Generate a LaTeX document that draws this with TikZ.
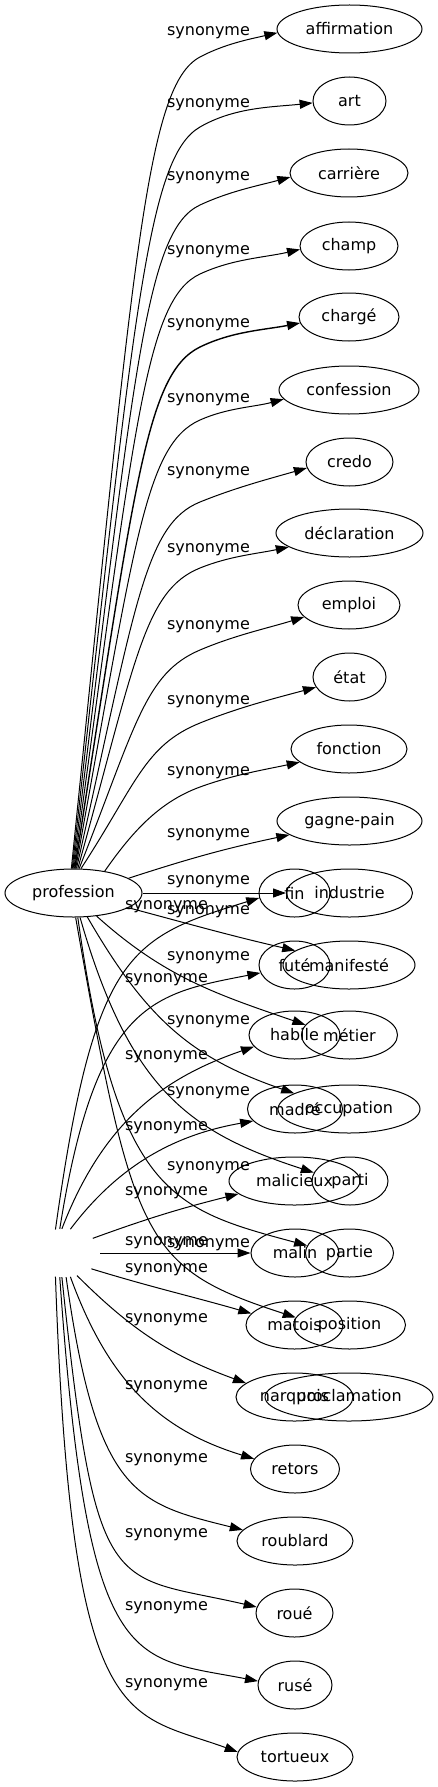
\documentclass[tikz,border=0pt]{standalone}
\usepackage{fontspec}
\setmainfont{DejaVu Sans}
\usetikzlibrary{shapes.geometric,arrows.meta}
\begin{document}
\begin{tikzpicture}[x=1pt,y=1pt,
  ell/.style={draw,ellipse,line width=1pt,inner sep=0pt,minimum height=48pt,font=\fontsize{16}{19}\selectfont},
  lbl/.style={inner sep=0pt,font=\fontsize{16}{19}\selectfont},
  edge/.style={line width=1pt,-{Triangle[length=13pt,width=9pt]}}]
\useasboundingbox (0,0) rectangle (437,-1787);
% sources
\node[ell,minimum width=137pt] (prof) at (73.5,-893) {profession};
\node[ellipse,inner sep=0pt,minimum width=72pt,minimum height=48pt] (inv) at (64,-1253) {};
% right column
\node[ell,minimum width=145pt] (affirmation) at (349.5,-29) {affirmation};
\node[ell,minimum width=73pt] (art) at (349.5,-101) {art};
\node[ell,minimum width=118pt] (carriere) at (349,-173) {carrière};
\node[ell,minimum width=98pt] (champ) at (349,-246) {champ};
\node[ell,minimum width=100pt] (charge) at (349,-317) {chargé};
\node[ell,minimum width=140pt] (confession) at (349,-390) {confession};
\node[ell,minimum width=87pt] (credo) at (349.5,-462) {credo};
\node[ell,minimum width=147pt] (declaration) at (349.5,-533) {déclaration};
\node[ell,minimum width=102pt] (emploi) at (349,-605) {emploi};
\node[ell,minimum width=73pt] (etat) at (349.5,-677) {état};
\node[ell,minimum width=116pt] (fonction) at (349,-749) {fonction};
\node[ell,minimum width=145pt] (gagnepain) at (349.5,-821) {gagne-pain};
\node[ell,minimum width=126pt] (industrie) at (349.5,-893) {industrie};
\node[ell,minimum width=132pt] (manifeste) at (349,-965) {manifesté};
\node[ell,minimum width=96pt] (metier) at (349.5,-1035) {métier};
\node[ell,minimum width=142pt] (occupation) at (349,-1109) {occupation};
\node[ell,minimum width=76pt] (parti) at (350,-1181) {parti};
\node[ell,minimum width=88pt] (partie) at (349.5,-1253) {partie};
\node[ell,minimum width=112pt] (position) at (349.5,-1325) {position};
\node[ell,minimum width=168pt] (proclamation) at (349,-1397) {proclamation};
% left column
\node[ell,minimum width=71pt] (fin) at (294.5,-893) {fin};
\node[ell,minimum width=71pt] (fute) at (294.5,-965) {futé};
\node[ell,minimum width=91pt] (habile) at (294.5,-1035) {habile};
\node[ell,minimum width=95pt] (madre) at (295,-1109) {madré};
\node[ell,minimum width=131pt] (malicieux) at (294.5,-1181) {malicieux};
\node[ell,minimum width=88pt] (malin) at (295,-1253) {malin};
\node[ell,minimum width=97pt] (matois) at (294.5,-1325) {matois};
\node[ell,minimum width=117pt] (narquois) at (294.5,-1397) {narquois};
\node[ell,minimum width=89pt] (retors) at (295,-1469) {retors};
\node[ell,minimum width=116pt] (roublard) at (295,-1541) {roublard};
\node[ell,minimum width=77pt] (roue) at (294.5,-1613) {roué};
\node[ell,minimum width=74pt] (ruse) at (295,-1685) {rusé};
\node[ell,minimum width=116pt] (tortueux) at (295,-1757) {tortueux};
% edges from profession
\draw[edge] (prof.95) to[out=84.2,in=208,out distance=621pt,in distance=60pt] (200,-57) to[out=28,in=193,out distance=28pt,in distance=28pt] (affirmation.183);
\draw[edge] (prof.93) to[out=83.7,in=210,out distance=565pt,in distance=60pt] (200,-127) to[out=30,in=186,out distance=40pt,in distance=40pt] (art.183);
\draw[edge] (prof.91) to[out=83,in=205,out distance=503pt,in distance=60pt] (200,-205) to[out=25,in=195,out distance=33pt,in distance=33pt] (carriere.184);
\draw[edge] (prof.89) to[out=82.2,in=205,out distance=448pt,in distance=60pt] (200,-274) to[out=25,in=193,out distance=36pt,in distance=36pt] (champ.184);
\draw[edge,line width=1.4pt] (prof.87) to[out=81.1,in=206,out distance=390pt,in distance=60pt] (200,-347) to[out=26,in=191,out distance=36pt,in distance=36pt] (charge.187);
\draw[edge] (prof.85) to[out=79.7,in=204,out distance=333pt,in distance=60pt] (200,-420) to[out=24,in=195,out distance=30pt,in distance=30pt] (confession.188);
\draw[edge] (prof.83) to[out=77.3,in=202,out distance=268pt,in distance=60pt] (200,-502) to[out=22,in=196,out distance=39pt,in distance=39pt] (credo.188);
\draw[edge] (prof.80) to[out=74.5,in=202,out distance=217pt,in distance=60pt] (200,-568) to[out=22,in=192,out distance=32pt,in distance=32pt] (declaration.193);
\draw[edge] (prof.77) to[out=68.4,in=203,out distance=154pt,in distance=60pt] (200,-650) to[out=23,in=197,out distance=38pt,in distance=38pt] (emploi.195);
\draw[edge] (prof.73) to[out=56.9,in=202,out distance=101pt,in distance=60pt] (200,-723) to[out=22,in=195,out distance=42pt,in distance=42pt] (etat.197);
\draw[edge] (prof.35) to[out=55,in=200,out distance=45pt,in distance=45pt] (200,-787) to[out=20,in=192,out distance=36pt,in distance=36pt] (fonction.195);
\draw[edge] (prof.15) to[out=18,in=192] (gagnepain.193);
\draw[edge] (prof.east) -- (industrie.west);
\draw[edge] (prof.-15) to[out=-15,in=167] (manifeste.165);
\draw[edge] (prof.-45) to[out=-42,in=161] (metier.167);
\draw[edge] (prof.-60) to[out=-60,in=161,out distance=120pt,in distance=107pt] (occupation.164);
\draw[edge] (prof.-75) to[out=-74,in=162,out distance=180pt,in distance=130pt] (parti.167);
\draw[edge] (prof.-80) to[out=-82,in=165,out distance=280pt,in distance=140pt] (partie.170);
\draw[edge] (prof.-85) to[out=-80,in=162,out distance=330pt,in distance=160pt] (position.172);
% edges from the unnamed node
\draw[edge] (inv.110) to[out=82,in=197,out distance=280pt,in distance=136pt] (fin.188);
\draw[edge] (inv.100) to[out=81,in=191,out distance=230pt,in distance=110pt] (fute.193);
\draw[edge] (inv.95) to[out=69,in=199,out distance=120pt,in distance=90pt] (habile.196);
\draw[edge] (inv.75) to[out=53,in=190,out distance=80pt,in distance=80pt] (madre.196);
\draw[edge] (inv.27) to[out=20,in=194] (malicieux.193);
\draw[edge] (inv.east) -- (malin.west);
\draw[edge] (inv.-30) to[out=-17,in=164] (matois.165);
\draw[edge] (inv.-60) to[out=-45,in=160] (narquois.164);
\draw[edge] (inv.-75) to[out=-70,in=163,out distance=110pt,in distance=100pt] (retors.166);
\draw[edge] (inv.-85) to[out=-82,in=166,out distance=220pt,in distance=110pt] (roublard.168);
\draw[edge] (inv.-95) to[out=-84,in=167,out distance=330pt,in distance=150pt] (roue.171);
\draw[edge] (inv.-100) to[out=-86,in=169,out distance=400pt,in distance=130pt] (ruse.174);
\draw[edge] (inv.-110) to[out=-88,in=160,out distance=460pt,in distance=120pt] (tortueux.175);
% labels
\foreach \ly [count=\i] in {33,105,178,252,325,400,473,550,627,702,773,835,882,912,958,1022,1093,1168,1245}
  \node[lbl] (la\i) at (208.5,-\ly) {synonyme};
\foreach \ly [count=\i] in {907,980,1057,1128,1193,1243,1270,1320,1387,1460,1535,1608,1685}
  \node[lbl] (lb\i) at (166.5,-\ly) {synonyme};
\end{tikzpicture}
\end{document}
